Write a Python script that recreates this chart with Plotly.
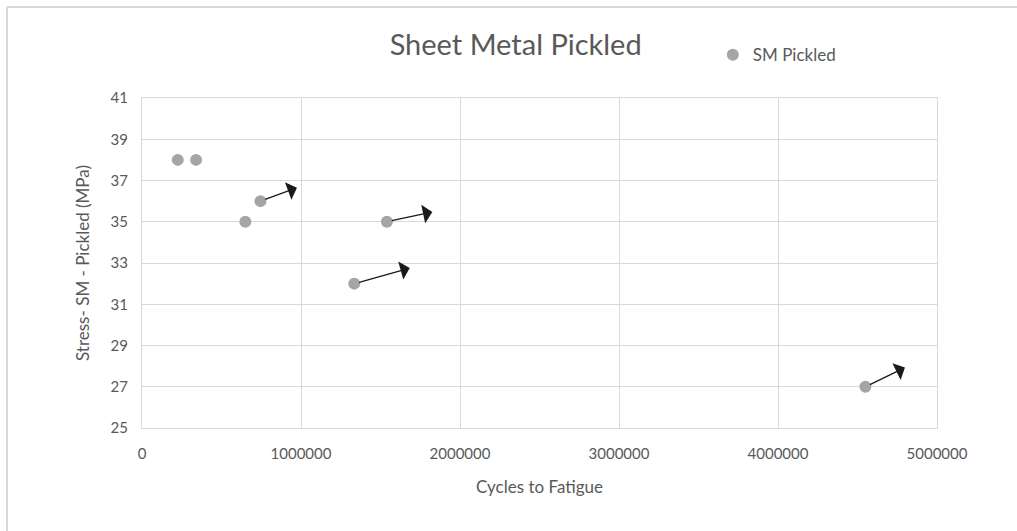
import plotly.graph_objects as go

# Fatigue test results for pickled sheet metal
cycles = [225000, 340000, 650000, 745000, 1335000, 1540000, 4550000]
stress = [38, 38, 35, 36, 32, 35, 27]
# True where the specimen ran out (did not fail) -> drawn with an arrow
runout = [False, False, False, True, True, True, True]

x_ticks = [0, 1000000, 2000000, 3000000, 4000000, 5000000]
y_ticks = [25, 27, 29, 31, 33, 35, 37, 39, 41]

# pixel offsets for the run-out arrows (style only)
arrow_offsets = {3: (38, -14), 4: (57, -16), 5: (47, -10), 6: (41, -20)}

FONT = "Lato"
GRID = "#d9d9d9"
TEXT = "#595959"

fig = go.Figure()
fig.add_trace(go.Scatter(
    x=cycles, y=stress, mode="markers", name="SM Pickled",
    marker=dict(color="#a5a5a5", size=12),
))

annotations = []
for i, (cx, sy, ro) in enumerate(zip(cycles, stress, runout)):
    if not ro:
        continue
    dx, dy = arrow_offsets[i]
    annotations.append(dict(
        x=cx, y=sy, xref="x", yref="y", ax=dx, ay=dy,
        axref="pixel", ayref="pixel", text="", showarrow=True,
        arrowside="start", startarrowhead=1, startarrowsize=2.4,
        arrowwidth=1.3, arrowcolor="#1a1a1a", standoff=5, startstandoff=0,
    ))

# outer chart frame (top and left edges)
shapes = [
    dict(type="line", xref="paper", yref="paper", x0=-0.1698, x1=1.2,
         y0=1.2758, y1=1.2758, line=dict(color=GRID, width=2)),
    dict(type="line", xref="paper", yref="paper", x0=-0.1698, x1=-0.1698,
         y0=1.2758, y1=-0.4, line=dict(color=GRID, width=2)),
]

fig.update_layout(
    width=1017, height=531,
    margin=dict(l=142, r=80, t=98, b=103),
    paper_bgcolor="white", plot_bgcolor="white",
    font=dict(family=FONT, color=TEXT, size=14),
    title=dict(text="Sheet Metal Pickled", x=0.47, xref="paper", xanchor="center",
               y=1 - 45 / 531, yanchor="middle",
               font=dict(family=FONT, size=29, color=TEXT)),
    showlegend=True,
    legend=dict(x=0.718, y=1.13, xanchor="left", yanchor="middle",
                font=dict(family=FONT, size=17, color=TEXT),
                bgcolor="rgba(0,0,0,0)", itemsizing="constant",
                itemwidth=30, tracegroupgap=0),
    annotations=annotations,
    shapes=shapes,
    xaxis=dict(range=[0, 5000000], tickmode="array", tickvals=x_ticks,
               ticktext=[str(v) for v in x_ticks],
               showgrid=True, gridcolor=GRID, gridwidth=1,
               showline=True, linecolor=GRID, linewidth=1, mirror=True,
               zeroline=False, ticks="", ticklabelstandoff=12,
               tickfont=dict(family=FONT, size=15, color=TEXT),
               title=dict(text="Cycles to Fatigue", standoff=20,
                          font=dict(family=FONT, size=17, color=TEXT))),
    yaxis=dict(range=[25, 41], tickmode="array", tickvals=y_ticks,
               showgrid=True, gridcolor=GRID, gridwidth=1,
               showline=True, linecolor=GRID, linewidth=1, mirror=True,
               zeroline=False, ticks="", ticklabelstandoff=10,
               tickfont=dict(family=FONT, size=15, color=TEXT),
               title=dict(text="Stress- SM - Pickled (MPa)", standoff=16,
                          font=dict(family=FONT, size=17, color=TEXT))),
)

fig.write_html("out.html")
